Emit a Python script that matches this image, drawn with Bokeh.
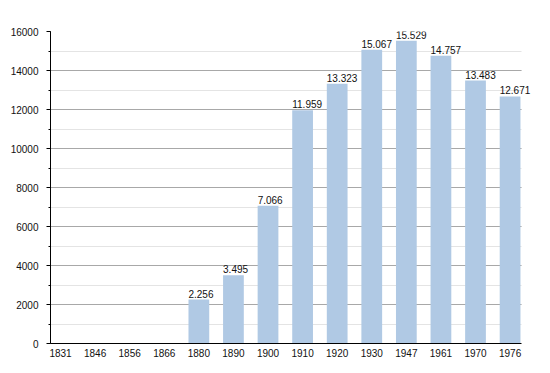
from bokeh.plotting import figure
from bokeh.models import ColumnDataSource, SingleIntervalTicker, FixedTicker, Range1d, LabelSet
from bokeh.transform import dodge
from bokeh.core.properties import value
from bokeh.embed import file_html
from bokeh.resources import INLINE

years = ["1831", "1846", "1856", "1866", "1880", "1890", "1900", "1910",
         "1920", "1930", "1947", "1961", "1970", "1976"]
population = [None, None, None, None, 2256, 3495, 7066, 11959,
              13323, 15067, 15529, 14757, 13483, 12671]

idx = list(range(len(years)))
bx = [i for i, v in zip(idx, population) if v is not None]
bv = [v for v in population if v is not None]
labels = [f"{v:,}".replace(",", ".") for v in bv]
src = ColumnDataSource(dict(x=bx, top=bv, label=labels))

n = len(years)
p = figure(width=542, height=365, output_backend="svg", toolbar_location=None,
           x_range=Range1d(-0.29, n - 1 + 0.648),
           y_range=Range1d(0, 16000),
           min_border_left=50, min_border_right=10, min_border_top=31, min_border_bottom=22)
p.outline_line_color = None
p.background_fill_color = "white"

p.vbar(x="x", top="top", width=0.6, source=src, fill_color="#b0c9e4", line_color=None)
lbl = LabelSet(x=dodge("x", -0.3), y="top", text="label", source=src, text_align="left",
               text_baseline="bottom", y_offset=2, text_font=value("Liberation Sans"),
               text_font_size=value("10px"), text_color="#111111")
p.add_layout(lbl)

p.yaxis.ticker = SingleIntervalTicker(interval=2000, num_minor_ticks=2)
p.yaxis.major_label_text_font = "Liberation Sans"
p.yaxis.major_label_text_font_size = "10px"
p.yaxis.major_label_text_color = "#111111"
p.yaxis.axis_line_color = "black"
p.yaxis.major_tick_line_color = "black"
p.yaxis.major_tick_out = 4
p.yaxis.major_tick_in = 0
p.yaxis.minor_tick_line_color = "black"
p.yaxis.minor_tick_out = 2
p.yaxis.minor_tick_in = 0
p.yaxis.major_label_standoff = 8

p.xaxis.ticker = FixedTicker(ticks=idx, minor_ticks=[])
p.xaxis.major_label_overrides = {i: y for i, y in zip(idx, years)}
p.xaxis.bounds = (-0.43, n - 1 + 0.33)
p.xaxis.major_label_text_font = "Liberation Sans"
p.xaxis.major_label_text_font_size = "10px"
p.xaxis.major_label_text_color = "#111111"
p.xaxis.axis_line_color = "black"
p.xaxis.major_tick_line_color = None
p.xaxis.minor_tick_line_color = None
p.xaxis.major_tick_out = 0
p.xaxis.major_tick_in = 0
p.xaxis.major_label_standoff = 5

p.xgrid.grid_line_color = None
p.ygrid.grid_line_color = "#a8a8a8"
p.ygrid.minor_grid_line_color = "#e4e4e4"
p.ygrid.cross_bounds = (-0.29, n - 1 + 0.33)

open("out.html", "w").write(file_html(p, INLINE))
